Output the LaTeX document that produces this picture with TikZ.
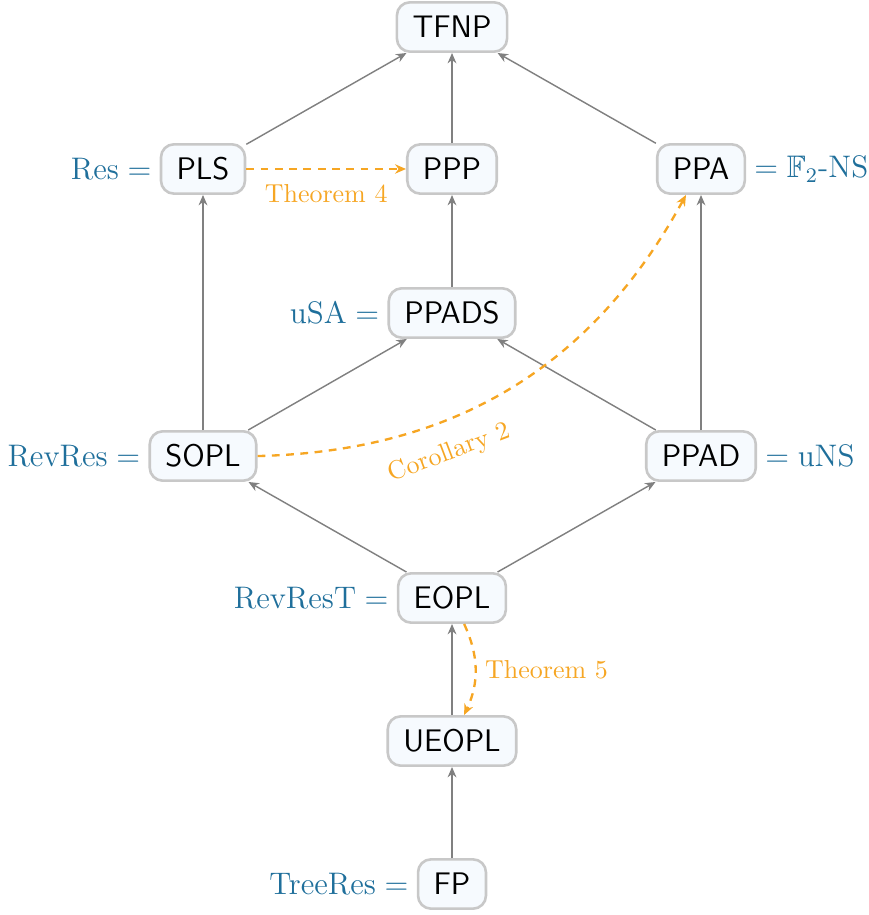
\documentclass[tikz,border=0pt]{standalone}
\usepackage{amsmath,amssymb}
\usetikzlibrary{arrows.meta,calc}
\definecolor{lblblue}{RGB}{31,111,155}
\definecolor{thmorange}{RGB}{246,166,35}
\definecolor{boxborder}{RGB}{200,200,200}
\definecolor{boxfill}{RGB}{246,250,254}
\definecolor{edgegray}{RGB}{128,128,128}
\tikzset{
  cls/.style={draw=boxborder, fill=boxfill, line width=1pt, rounded corners=5pt,
    minimum height=19pt, inner xsep=6pt, font=\large\sffamily, text=black},
  lbl/.style={text=lblblue, inner sep=3pt, font=\large},
  red/.style={-{Stealth[length=4pt,width=3.4pt]}, edgegray, line width=0.55pt},
  thm/.style={-{Stealth[length=4.2pt,width=3.6pt]}, thmorange, line width=0.9pt,
    dash pattern=on 3pt off 2.5pt},
  thmlbl/.style={text=thmorange, font=\normalsize}
}
\begin{document}
\begin{tikzpicture}[x=0.385pt,y=0.385pt]
\useasboundingbox (0,0) rectangle (868,-915);
\node[cls] (TFNP) at (452,-27) {TFNP};
\node[cls] (PLS) at (203,-169) {PLS};
\node[cls] (PPP) at (452,-169) {PPP};
\node[cls] (PPA) at (701,-169) {PPA};
\node[cls] (PPADS) at (452,-313) {PPADS};
\node[cls] (SOPL) at (203,-456) {SOPL};
\node[cls] (PPAD) at (701,-456) {PPAD};
\node[cls] (EOPL) at (452,-598) {EOPL};
\node[cls] (UEOPL) at (452,-741) {UEOPL};
\node[cls] (FP) at (452,-884) {FP};

\node[lbl, anchor=east] (lPLS) at (PLS.west) {$\mathrm{Res} =$};
\node[lbl, anchor=west] (lPPA) at (PPA.east) {$= \mathbb{F}_2$-NS};
\node[lbl, anchor=east] (lPPADS) at (PPADS.west) {$\mathrm{uSA} =$};
\node[lbl, anchor=east] (lSOPL) at (SOPL.west) {$\mathrm{RevRes} =$};
\node[lbl, anchor=west] (lPPAD) at (PPAD.east) {$= \mathrm{uNS}$};
\node[lbl, anchor=east] (lEOPL) at (EOPL.west) {$\mathrm{RevResT} =$};
\node[lbl, anchor=east] (lFP) at (FP.west) {$\mathrm{TreeRes} =$};

\draw[red] (PLS) -- (TFNP);
\draw[red] (PPP) -- (TFNP);
\draw[red] (PPA) -- (TFNP);
\draw[red] (PPADS) -- (PPP);
\draw[red] (SOPL) -- (PLS);
\draw[red] (PPAD) -- (PPA);
\draw[red] (SOPL) -- (PPADS);
\draw[red] (PPAD) -- (PPADS);
\draw[red] (EOPL) -- (SOPL);
\draw[red] (EOPL) -- (PPAD);
\draw[red] (UEOPL) -- (EOPL);
\draw[red] (FP) -- (UEOPL);

\draw[thm] (PLS) -- node[thmlbl, below, yshift=-2pt] {Theorem 4} (PPP);
\draw[thm] (SOPL) to[bend right=30] node[thmlbl, pos=0.34, sloped, below, yshift=-4pt] {Corollary 2} (PPA);
\draw[thm] (EOPL) to[bend left=25] node[thmlbl, right] {Theorem 5} (UEOPL);
\end{tikzpicture}
\end{document}
